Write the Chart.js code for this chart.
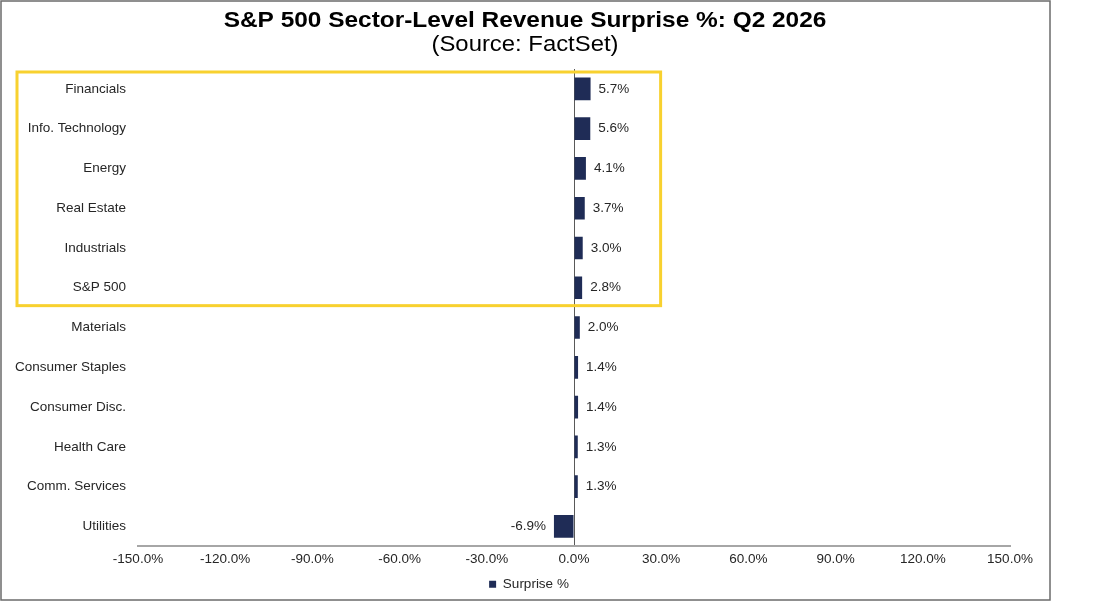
<!DOCTYPE html>
<html>
<head>
<meta charset="utf-8">
<style>
  html, body { margin: 0; padding: 0; background: #fff; }
  canvas { display: block; }
</style>
</head>
<body>
<canvas id="surpriseChart" width="1093" height="616"></canvas>

<script src="https://cdn.jsdelivr.net/npm/chart.js@4.4.1/dist/chart.umd.min.js"></script>
<script>
// chart data
const titleText = 'S&P 500 Sector-Level Revenue Surprise %: Q2 2026';
const subtitleText = '(Source: FactSet)';
const seriesName = 'Surprise %';
const sectors = ['Financials', 'Info. Technology', 'Energy', 'Real Estate', 'Industrials', 'S&P 500',
                 'Materials', 'Consumer Staples', 'Consumer Disc.', 'Health Care', 'Comm. Services', 'Utilities'];
const surprise = [5.7, 5.6, 4.1, 3.7, 3.0, 2.8, 2.0, 1.4, 1.4, 1.3, 1.3, -6.9];
const xMin = -150;
const xMax = 150;
const xStep = 30;
const highlightCount = 6;   // first N sectors get the yellow box

const barColor = '#1F2C56';
const textColor = '#262626';
const fontFamily = '"Liberation Sans", Arial, sans-serif';
const smallFont = { family: fontFamily, size: 13.5 };

// white background + grey frame round the chart
const framePlugin = {
    id: 'frame',
    beforeDraw(chart) {
        const c = chart.ctx;
        c.save();
        c.fillStyle = '#fff';
        c.fillRect(0, 0, chart.width, chart.height);
        c.strokeStyle = '#6b6b6b';
        c.lineWidth = 1.5;
        c.strokeRect(1, 1, 1049, 599);
        c.restore();
    }
};

// legend sits centred under the frame, not under the whole canvas
const legendShiftPlugin = {
    id: 'legendShift',
    afterLayout(chart) {
        const lg = chart.legend;
        lg.left += 24;
        lg.right += 24;
    }
};

// title and subtitle, a bit wide like the original
const headerPlugin = {
    id: 'header',
    afterDraw(chart) {
        const c = chart.ctx;
        c.save();
        c.fillStyle = '#000';
        c.textAlign = 'center';
        c.textBaseline = 'middle';
        c.translate(525, 0);
        c.scale(1.11, 1);
        c.font = 'bold 22px ' + fontFamily;
        c.fillText(titleText, 0, 21);
        c.font = '21.5px ' + fontFamily;
        c.fillText(subtitleText, 0, 45);
        c.restore();
    }
};

// value labels next to each bar end
const valueLabelPlugin = {
    id: 'valueLabels',
    afterDatasetsDraw(chart) {
        const c = chart.ctx;
        const meta = chart.getDatasetMeta(0);
        c.save();
        c.font = smallFont.size + 'px ' + fontFamily;
        c.fillStyle = textColor;
        c.textBaseline = 'middle';
        meta.data.forEach((bar, i) => {
            const v = surprise[i];
            const txt = v.toFixed(1) + '%';
            if (v >= 0) {
                c.textAlign = 'left';
                c.fillText(txt, bar.x + 8, bar.y);
            } else {
                c.textAlign = 'right';
                c.fillText(txt, bar.x - 8, bar.y);
            }
        });
        c.restore();
    }
};

// yellow box round the top sectors
const highlightPlugin = {
    id: 'highlight',
    afterDraw(chart) {
        const y = chart.scales.y;
        const x = chart.scales.x;
        const half = (y.getPixelForValue(1) - y.getPixelForValue(0)) / 2;
        const top = y.getPixelForValue(0) - half + 3;
        const bottom = y.getPixelForValue(highlightCount - 1) + half - 2;
        const left = 17;
        const right = x.getPixelForValue(29.8);
        const c = chart.ctx;
        c.save();
        c.strokeStyle = '#F8D12F';
        c.lineWidth = 3;
        c.strokeRect(left, top, right - left, bottom - top);
        c.restore();
    }
};

const ctx = document.getElementById('surpriseChart').getContext('2d');
const chart = new Chart(ctx, {
    type: 'bar',
    data: {
        labels: sectors,
        datasets: [{
            label: seriesName,
            data: surprise,
            backgroundColor: barColor,
            borderWidth: 0,
            categoryPercentage: 1,
            barPercentage: 0.57
        }]
    },
    options: {
        indexAxis: 'y',
        responsive: false,
        animation: false,
        layout: {
            padding: { top: 69, left: 0, right: 83, bottom: 15 }
        },
        scales: {
            x: {
                min: xMin,
                max: xMax,
                ticks: {
                    stepSize: xStep,
                    padding: 5,
                    color: textColor,
                    font: smallFont,
                    callback: v => v.toFixed(1) + '%'
                },
                grid: {
                    drawTicks: false,
                    lineWidth: 1,
                    color: c => (c.tick && c.tick.value === 0) ? '#595959' : 'rgba(0,0,0,0)'
                },
                border: { color: '#A6A6A6', width: 2 }
            },
            y: {
                grid: { display: false, drawTicks: false },
                border: { display: false },
                ticks: { padding: 12, color: textColor, font: smallFont },
                afterFit: s => { s.width = 138; }
            }
        },
        plugins: {
            legend: {
                position: 'bottom',
                labels: {
                    boxWidth: 7,
                    boxHeight: 7,
                    padding: 5,
                    color: textColor,
                    font: smallFont
                }
            },
            tooltip: { enabled: false },
            title: { display: false }
        }
    },
    plugins: [framePlugin, legendShiftPlugin, headerPlugin, valueLabelPlugin, highlightPlugin]
});
</script>
</body>
</html>
